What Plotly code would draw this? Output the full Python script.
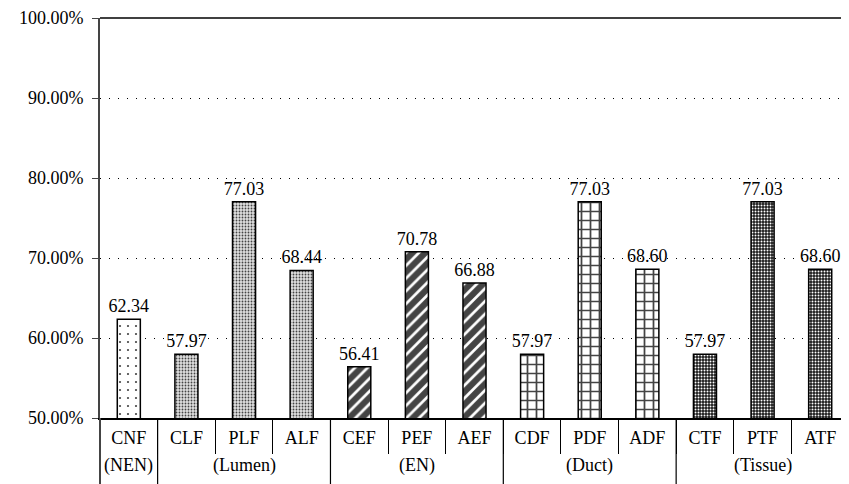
import plotly.graph_objects as go

groups = ["(NEN)", "(Lumen)", "(Lumen)", "(Lumen)", "(EN)", "(EN)", "(EN)",
          "(Duct)", "(Duct)", "(Duct)", "(Tissue)", "(Tissue)", "(Tissue)"]
categories = ["CNF", "CLF", "PLF", "ALF", "CEF", "PEF", "AEF",
              "CDF", "PDF", "ADF", "CTF", "PTF", "ATF"]
values = [62.34, 57.97, 77.03, 68.44, 56.41, 70.78, 66.88,
          57.97, 77.03, 68.60, 57.97, 77.03, 68.60]
y_ticks = [50, 60, 70, 80, 90, 100]
y_ticktext = ["50.00%", "60.00%", "70.00%", "80.00%", "90.00%", "100.00%"]

style = {
    "(NEN)": dict(shape=".", bg="white", fg="#5b8ee6", size=8, sol=0.06),
    "(Lumen)": dict(shape=".", bg="#e0e0e0", fg="#bdbdbd", size=3, sol=0.3),
    "(EN)": dict(shape="/", bg="white", fg="black", size=9, sol=0.7),
    "(Duct)": dict(shape="+", bg="white", fg="black", size=9, sol=0.35),
    "(Tissue)": dict(shape=".", bg="#1a1a1a", fg="#9a9a9a", size=3, sol=0.35),
}

font = "Liberation Serif"
W, H = 841, 476
ML, MR, MT, MB = 92, 0, 10, 66
plot_h = H - MT - MB
n = len(categories)

fig = go.Figure(go.Bar(
    x=categories,
    y=values,
    width=0.4,
    text=[f"{v:.2f}" for v in values],
    textposition="outside",
    constraintext="none",
    cliponaxis=False,
    textfont=dict(family=font, size=18, color="black"),
    marker=dict(
        color=[style[g]["bg"] for g in groups],
        line=dict(color="black", width=1.5),
        pattern=dict(
            shape=[style[g]["shape"] for g in groups],
            bgcolor=[style[g]["bg"] for g in groups],
            fgcolor=[style[g]["fg"] for g in groups],
            fgopacity=1,
            size=[style[g]["size"] for g in groups],
            solidity=[style[g]["sol"] for g in groups],
        ),
    ),
))

shapes = [
    dict(type="line", xref="paper", yref="paper", x0=0, x1=1, y0=1, y1=1,
         line=dict(color="black", width=1.5)),
    dict(type="line", xref="paper", yref="paper", x0=0, x1=0, y0=0, y1=-MB / plot_h,
         line=dict(color="#444", width=2)),
]
annotations = []
# group dividers and group labels, derived from the group list
start = 0
for i in range(1, n + 1):
    if i == n or groups[i] != groups[start]:
        annotations.append(dict(
            x=(start + i - 1) / 2, xref="x", y=-47 / plot_h, yref="paper",
            text=groups[start], showarrow=False, yanchor="middle",
            font=dict(family=font, size=18, color="black")))
        if i < n:
            shapes.append(dict(type="line", xref="x", yref="paper",
                               x0=i - 0.5, x1=i - 0.5, y0=0, y1=-MB / plot_h,
                               line=dict(color="black", width=1.2)))
        start = i

fig.update_layout(
    width=W, height=H,
    margin=dict(l=ML, r=MR, t=MT, b=MB),
    paper_bgcolor="white", plot_bgcolor="white",
    showlegend=False,
    font=dict(family=font, size=18, color="black"),
    xaxis=dict(
        type="category",
        automargin=False,
        range=[-0.5, n - 0.5],
        showline=True, linecolor="black", linewidth=1.5,
        ticks="outside", tickson="boundaries", ticklen=34,
        tickcolor="black", tickwidth=1.2,
        ticklabelstandoff=3,
        showgrid=False,
        tickfont=dict(family=font, size=18, color="black"),
    ),
    yaxis=dict(
        automargin=False,
        range=[50, 100],
        tickvals=y_ticks, ticktext=y_ticktext,
        ticklabeloverflow="allow",
        showline=True, linecolor="#444", linewidth=2,
        ticks="outside", ticklen=6, tickcolor="#444",
        ticklabelstandoff=5,
        showgrid=True, gridcolor="black", gridwidth=1, griddash="1px,8px",
        zeroline=False,
        tickfont=dict(family=font, size=18, color="black"),
    ),
    shapes=shapes,
    annotations=annotations,
)

fig.write_html("out.html")
